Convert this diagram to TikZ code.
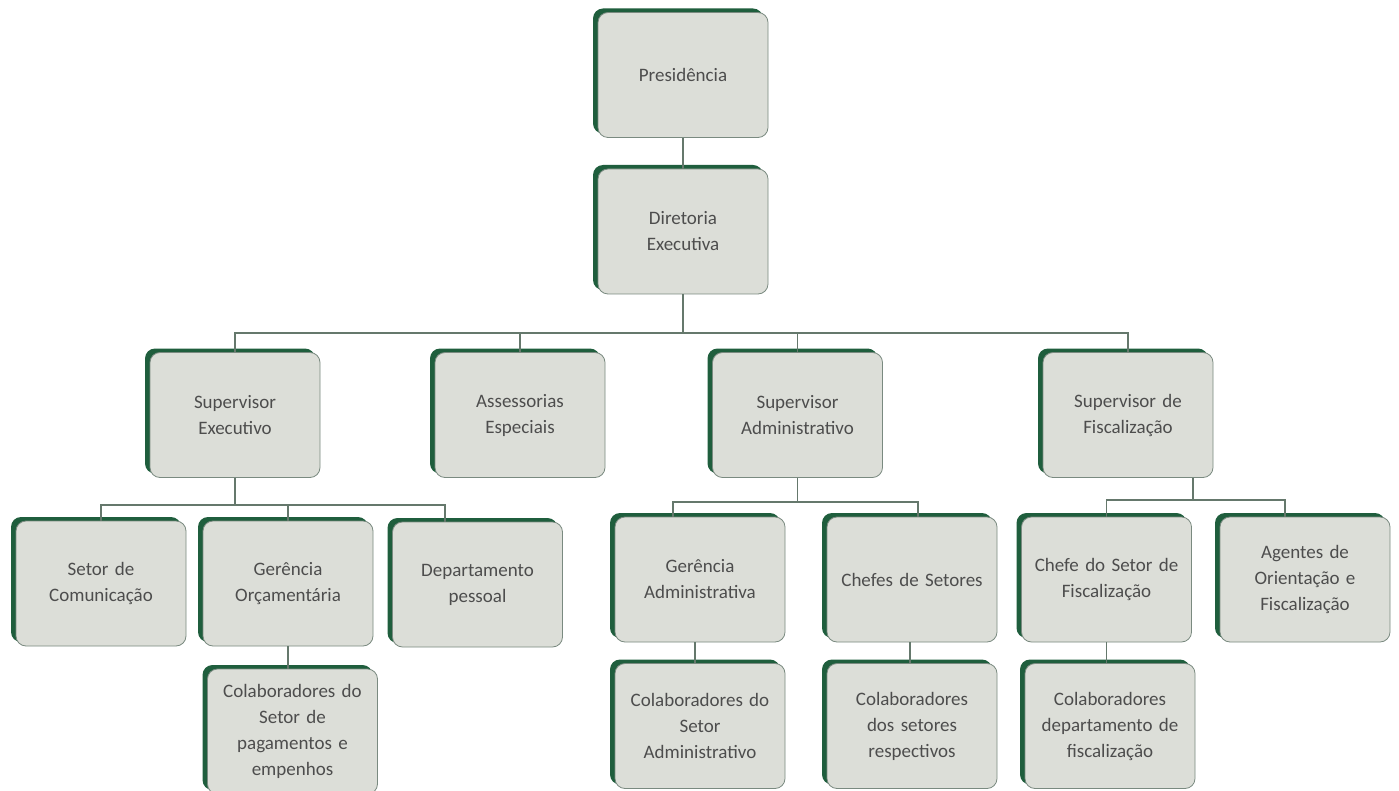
\documentclass[tikz,border=0pt]{standalone}
\usepackage{fontspec}
\setmainfont{Carlito}
\usetikzlibrary{shadows}
\definecolor{boxfill}{HTML}{DCDED8}
\definecolor{boxgreen}{HTML}{1F5E3D}
\definecolor{boxline}{HTML}{7A8A80}
\definecolor{linkc}{HTML}{65786C}
\definecolor{txt}{HTML}{4D4D4D}
\begin{document}
\begin{tikzpicture}[x=1pt,y=-1pt,
  orgbox/.style={rectangle, rounded corners=10pt, fill=boxfill, draw=boxline,
    line width=0.8pt, minimum width=170pt, minimum height=125pt,
    text width=160pt, align=center, inner sep=0pt,
    font=\fontsize{19}{26}\selectfont, text=txt,
    general shadow={fill=boxgreen, shadow xshift=-5pt, shadow yshift=4pt}},
  link/.style={draw=linkc, line width=1.8pt}]
\useasboundingbox (0,0) rectangle (1399,791);
\fill[white] (0,0) rectangle (1399,791);

% nodes
\node[orgbox] (pres)    at (683,75)    {Presidência};
\node[orgbox] (dir)     at (683,231.5) {Diretoria\\Executiva};
\node[orgbox] (supexec) at (235,415)   {Supervisor\\Executivo};
\node[orgbox] (assess)  at (520,415)   {Assessorias\\Especiais};
\node[orgbox] (supadm)  at (797.5,415) {Supervisor\\Administrativo};
\node[orgbox] (supfis)  at (1128,415)  {Supervisor de\\Fiscalização};
\node[orgbox] (setcom)  at (101,583.5) {Setor de\\Comunicação};
\node[orgbox] (gerorc)  at (288,583.5) {Gerência\\Orçamentária};
\node[orgbox] (deppes)  at (477.5,584.5) {Departamento\\pessoal};
\node[orgbox] (colpag)  at (292.5,731.5) {Colaboradores do\\Setor de\\pagamentos e\\empenhos};
\node[orgbox] (geradm)  at (700,579.5) {Gerência\\Administrativa};
\node[orgbox] (chefes)  at (912,579.5) {Chefes de Setores};
\node[orgbox] (coladm)  at (700,726)   {Colaboradores do\\Setor\\Administrativo};
\node[orgbox] (colset)  at (912,726)   {Colaboradores\\dos setores\\respectivos};
\node[orgbox] (chefis)  at (1106.5,579.5) {Chefe do Setor de\\Fiscalização};
\node[orgbox] (agentes) at (1305,579.5) {Agentes de\\Orientação e\\Fiscalização};
\node[orgbox] (colfis)  at (1110,726)  {Colaboradores\\departamento de\\fiscalização};

% bus coordinates
\coordinate (b1) at (681,333);
\coordinate (b2) at (233,505);
\coordinate (b3) at (795,502);
\coordinate (b4) at (1193,500);
\coordinate (dptop) at ([xshift=-32.5pt]deppes.north);
\coordinate (gatop) at ([xshift=-27pt]geradm.north);
\coordinate (chtop) at ([xshift=6pt]chefes.north);
\coordinate (agtop) at ([xshift=-20pt]agentes.north);
\coordinate (sfbot) at ([xshift=65pt]supfis.south);

% connectors
\draw[link] (pres.south) -- (dir.north);
\draw[link] (dir.south) -- (dir.south |- b1);
\draw[link] (supexec.north) |- (b1) -| (supfis.north);
\draw[link] (assess.north) -- (assess.north |- b1);
\draw[link] (supadm.north) -- (supadm.north |- b1);

\draw[link] (supexec.south) -- (supexec.south |- b2);
\draw[link] (setcom.north) |- (b2) -| (dptop);
\draw[link] (gerorc.north) -- (gerorc.north |- b2);
\draw[link] (gerorc.south) -- (gerorc.south |- colpag.north);

\draw[link] (supadm.south) -- (supadm.south |- b3);
\draw[link] (gatop) |- (b3) -| (chtop);
\draw[link] ([xshift=-5pt]geradm.south) -- ([xshift=-5pt]coladm.north);
\draw[link] ([xshift=-2pt]chefes.south) -- ([xshift=-2pt]colset.north);

\draw[link] (sfbot) -- (sfbot |- b4);
\draw[link] (chefis.north) |- (b4) -| (agtop);
\draw[link] (chefis.south) -- (chefis.south |- colfis.north);
\end{tikzpicture}
\end{document}
